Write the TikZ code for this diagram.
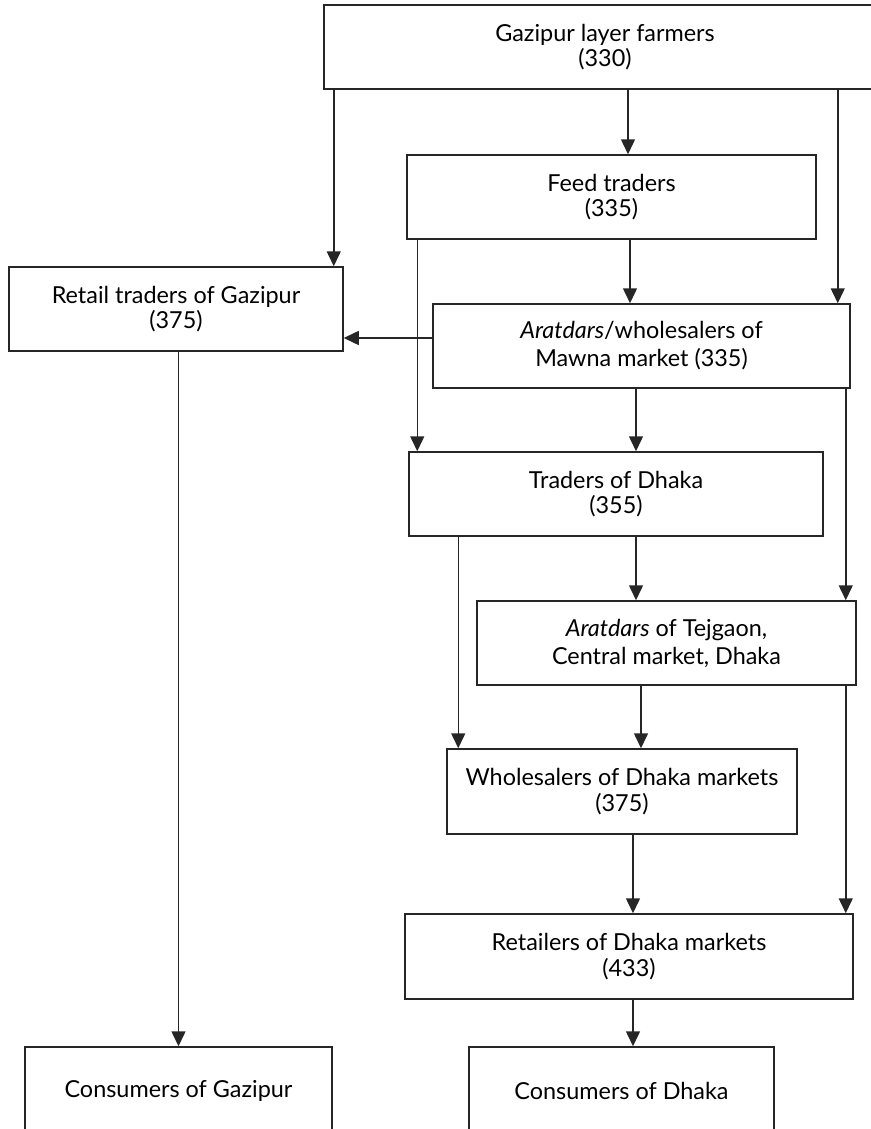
\documentclass[tikz,border=0pt]{standalone}
\usepackage{fontspec}
\setmainfont{Lato}
\usetikzlibrary{arrows.meta}

\begin{document}
\begin{tikzpicture}[x=0.5pt, y=-0.5pt,
    box/.style={draw=black!85, line width=0.75pt, align=center, inner sep=0pt,
      font=\fontsize{11.7}{12.8}\selectfont},
    widebox/.style={box, font=\fontsize{11.7}{14}\selectfont},
    arr/.style={draw=black!85, line width=0.75pt, -{Triangle[length=7.5pt,width=7pt]}}]

    % Page frame
    \useasboundingbox (0,0) rectangle (871,1129);
    \clip (0,0) rectangle (871,1129);

    % Draw boxes
    \node[box, minimum width=281pt, minimum height=42pt] (farmers) at (605,47)
      {Gazipur layer farmers\\(330)};
    \node[box, minimum width=204.5pt, minimum height=42pt] (feed) at (611.5,197)
      {Feed traders\\(335)};
    \node[box, minimum width=167pt, minimum height=42pt] (retail) at (176,309)
      {Retail traders of Gazipur\\(375)};
    \node[widebox, minimum width=208.5pt, minimum height=42pt] (mawna) at (641.5,346)
      {\textit{Aratdars}/wholesalers of\\Mawna market (335)};
    \node[box, minimum width=207pt, minimum height=42pt] (tradersD) at (616,494)
      {Traders of Dhaka\\(355)};
    \node[widebox, minimum width=189.5pt, minimum height=42pt] (tejgaon) at (666.5,643)
      {\textit{Aratdars} of Tejgaon,\\Central market, Dhaka};
    \node[box, minimum width=175pt, minimum height=42.5pt] (wholesale) at (622,791.5)
      {Wholesalers of Dhaka markets\\(375)};
    \node[box, minimum width=224pt, minimum height=42.5pt] (retailD) at (629,956.5)
      {Retailers of Dhaka markets\\(433)};
    \node[box, minimum width=153.5pt, minimum height=44pt] (consG) at (178.5,1091)
      {Consumers of Gazipur};
    \node[box, minimum width=152.5pt, minimum height=44pt] (consD) at (621.5,1091)
      {Consumers of Dhaka};

    % Arrow ends
    \coordinate (c1) at ([xshift=-5pt]retail.north east);
    \coordinate (c2) at ([xshift=8.25pt]feed.north);
    \coordinate (c3) at ([xshift=-6.5pt]mawna.north east);
    \coordinate (c4) at ([xshift=-5.75pt]mawna.north);
    \coordinate (c5) at ([xshift=4.5pt]tradersD.north west);
    \coordinate (c6) at ([yshift=-14.5pt]retail.east);
    \coordinate (c7) at ([xshift=10pt]tradersD.north);
    \coordinate (c8) at ([xshift=-5.5pt]tejgaon.north east);
    \coordinate (c9) at ([xshift=6pt]wholesale.north west);
    \coordinate (c10) at ([xshift=9.5pt]wholesale.north);
    \coordinate (c11) at ([xshift=2pt]retailD.north);

    % Draw connectors
    \draw[arr] (farmers.south -| c1) -- (c1);
    \draw[arr] (farmers.south -| c2) -- (c2);
    \draw[arr] (farmers.south -| c3) -- (c3);
    \draw[arr] (feed.south -| c4) -- (c4);
    \draw[arr] (feed.south -| c5) -- (c5);
    \draw[arr] (mawna.west |- c6) -- (c6);
    \draw[arr] (mawna.south -| c7) -- (c7);
    \draw[arr] (mawna.south -| c8) -- (c8);
    \draw[arr] (tradersD.south -| c7) -- (tejgaon.north -| c7);
    \draw[arr] (tradersD.south -| c9) -- (c9);
    \draw[arr] (tejgaon.south -| c10) -- (c10);
    \draw[arr] (tejgaon.south -| c8) -- (retailD.north -| c8);
    \draw[arr] (wholesale.south -| c11) -- (c11);
    \draw[arr] (retailD.south -| c11) -- (consD.north -| c11);
    \draw[arr] (retail.south -| consG.north) -- (consG.north);

\end{tikzpicture}
\end{document}
